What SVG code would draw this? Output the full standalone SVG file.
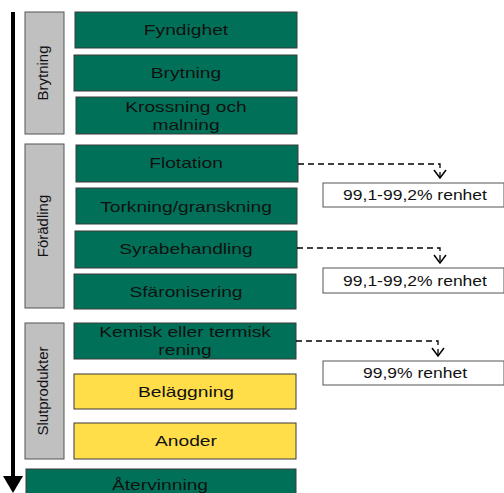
<svg xmlns="http://www.w3.org/2000/svg" width="504" height="493" viewBox="0 0 504 493">
<defs>
<style>
.g{fill:#007158;stroke:#3a3a3a;stroke-width:1}
.y{fill:#FFDE4A;stroke:#3a3a3a;stroke-width:1}
.s{fill:#C0C0C0;stroke:#555;stroke-width:1}
.w{fill:#fff;stroke:#555;stroke-width:1}
text{font-family:"Liberation Sans",Arial,sans-serif;font-size:15px;fill:#111;text-anchor:middle}
.sm{font-size:14px}
.d{fill:none;stroke:#000;stroke-width:1.3;stroke-dasharray:6 4}
.ah{fill:none;stroke:#000;stroke-width:1.5}
</style>
</defs>
<rect width="504" height="493" fill="#fff"/>
<g id="timeline">
<line x1="13" y1="12" x2="13" y2="478" stroke="#000" stroke-width="4"/>
<polygon points="3,476 23,476 13,493" fill="#000"/>
</g>
<g id="phase-brytning"><rect class="s" x="25" y="12" width="39" height="122"/><text transform="translate(48,73) rotate(-90)">Brytning</text></g>
<g id="phase-foradling"><rect class="s" x="25" y="144" width="39" height="164"/><text transform="translate(48,226) rotate(-90)">Förädling</text></g>
<g id="phase-slut"><rect class="s" x="25" y="323" width="39" height="136"/><text transform="translate(48,391) rotate(-90)">Slutprodukter</text></g>
<g id="n-fyndighet"><rect class="g" x="75" y="12" width="222" height="36"/><text transform="matrix(1.28 0 0 1 186 35)">Fyndighet</text></g>
<g id="n-brytning"><rect class="g" x="74" y="55" width="223" height="36"/><text transform="matrix(1.28 0 0 1 186 78)">Brytning</text></g>
<g id="n-krossning"><rect class="g" x="76" y="97" width="221" height="37"/><text transform="matrix(1.28 0 0 1 186 112)">Krossning och</text><text transform="matrix(1.28 0 0 1 186 130)">malning</text></g>
<g id="n-flotation"><rect class="g" x="76" y="145" width="222" height="37"/><text transform="matrix(1.28 0 0 1 186 168)">Flotation</text></g>
<g id="n-torkning"><rect class="g" x="76" y="188" width="221" height="36"/><text transform="matrix(1.28 0 0 1 186 212)">Torkning/granskning</text></g>
<g id="n-syra"><rect class="g" x="75" y="231" width="222" height="37"/><text transform="matrix(1.28 0 0 1 186 254)">Syrabehandling</text></g>
<g id="n-sfaron"><rect class="g" x="74" y="274" width="222" height="35"/><text transform="matrix(1.28 0 0 1 186 297)">Sfäronisering</text></g>
<g id="n-kemisk"><rect class="g" x="74" y="323" width="222" height="36"/><text transform="matrix(1.28 0 0 1 185 337)">Kemisk eller termisk</text><text transform="matrix(1.28 0 0 1 185 355)">rening</text></g>
<g id="n-belaggning"><rect class="y" x="74" y="374" width="222" height="35"/><text transform="matrix(1.28 0 0 1 186 397)">Beläggning</text></g>
<g id="n-anoder"><rect class="y" x="74" y="423" width="222" height="36"/><text transform="matrix(1.28 0 0 1 186 446)">Anoder</text></g>
<g id="n-atervinning"><rect class="g" x="26" y="469" width="270" height="30"/><text transform="matrix(1.28 0 0 1 160 490)">Återvinning</text></g>
<g id="r1"><rect class="w" x="323" y="183" width="181" height="24"/><text class="sm" transform="matrix(1.25 0 0 1 415 200)">99,1-99,2% renhet</text></g>
<g id="r2"><rect class="w" x="323" y="268" width="181" height="25"/><text class="sm" transform="matrix(1.25 0 0 1 415 286)">99,1-99,2% renhet</text></g>
<g id="r3"><rect class="w" x="323" y="361" width="181" height="24"/><text class="sm" transform="matrix(1.25 0 0 1 415 378)">99,9% renhet</text></g>
<g id="connectors">
<path class="d" d="M298,164 H440 V178"/>
<polyline class="ah" points="434,170 440,178 446,170"/>
<path class="d" d="M297,248 H440 V263"/>
<polyline class="ah" points="434,255 440,263 446,255"/>
<path class="d" d="M296,341 H438 V356"/>
<polyline class="ah" points="432,348 438,356 444,348"/>
</g>
</svg>
